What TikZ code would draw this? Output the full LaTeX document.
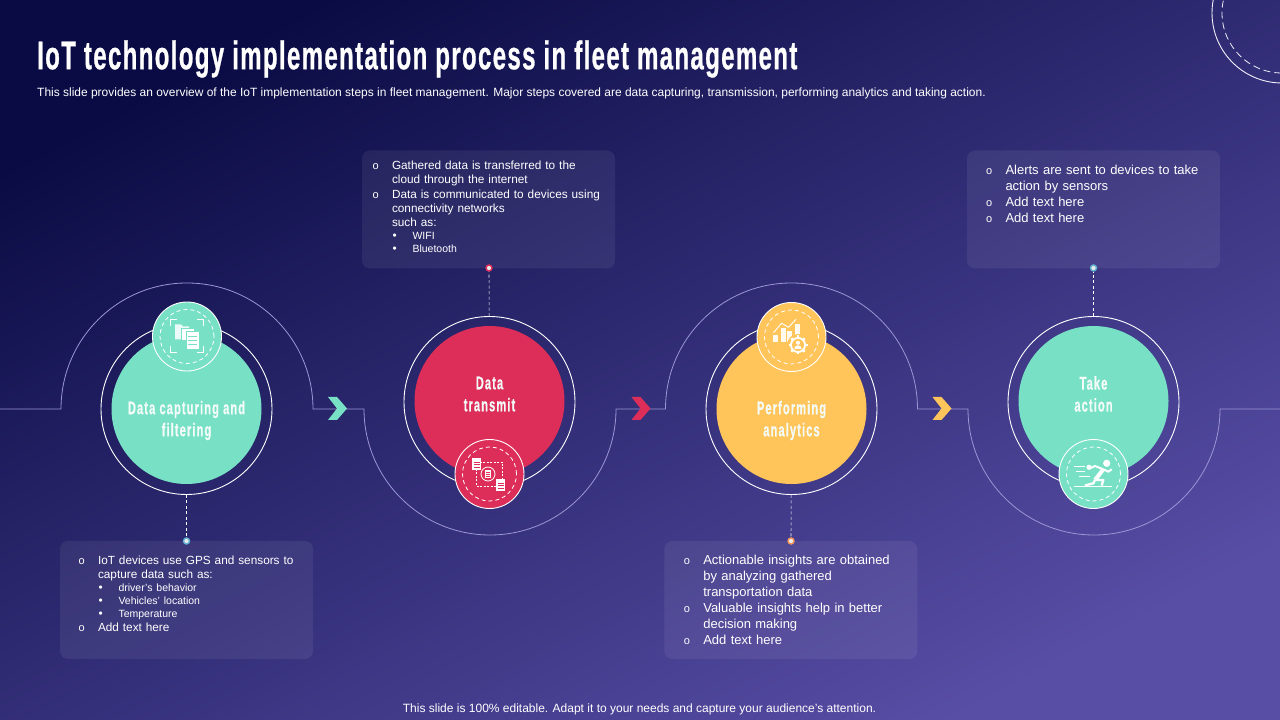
\documentclass[tikz,border=0pt]{standalone}
\usepackage{fontspec}
\setmainfont{Liberation Sans}
\newfontfamily\headfont[FakeStretch=0.6,LetterSpace=3.4,FakeBold=0.6]{Liberation Sans}
\newfontfamily\stepfont[FakeStretch=0.6,LetterSpace=6,FakeBold=0.5]{Liberation Sans}
\usetikzlibrary{positioning, arrows.meta, shapes.geometric}

\definecolor{tealc}{HTML}{78E0C5}
\definecolor{redc}{HTML}{DC2E58}
\definecolor{yellowc}{HTML}{FFC45A}
\definecolor{flowc}{HTML}{9C96D6}

% lista de cada recuadro
\newcommand{\ringitem}[1]{\noindent\makebox[19.5pt][l]{\fontsize{11}{11}\selectfont o}\parbox[t]{215pt}{\raggedright #1\strut}\par\prevdepth=\dp\strutbox}
\newcommand{\dotitem}[1]{\noindent\hspace*{20pt}\makebox[20pt][l]{\textbullet}{\fontsize{10.5}{13}\selectfont #1\par}}

\tikzset{
    foldericon/.pic={
        \draw[white, line width=1pt] (-16.5,10) -- (-16.5,16.5) -- (-10,16.5);
        \draw[white, line width=1pt] (10,16.5) -- (16.5,16.5) -- (16.5,10);
        \draw[white, line width=1pt] (16.5,-10) -- (16.5,-16.5) -- (10,-16.5);
        \draw[white, line width=1pt] (-10,-16.5) -- (-16.5,-16.5) -- (-16.5,-10);
        \fill[white, opacity=.85] (-12,12) -- (-6,12) -- (-4,10) -- (2,10) -- (2,-3) -- (-12,-3) -- cycle;
        \fill[white, draw=tealc, line width=.6pt] (-6,8) -- (7,8) -- (7,-4) -- (-6,-4) -- cycle;
        \fill[white, draw=tealc, line width=.6pt] (-1,5) rectangle (12,-13);
        \foreach \ly in {0,-4,-8} {\draw[tealc, line width=.7pt] (1,\ly) -- (10,\ly);}
    },
    cycleicon/.pic={
        \draw[white, line width=.7pt, dash pattern=on 2pt off 1.5pt] (-13.5,12) rectangle (12.5,-12);
        \draw[white, line width=.8pt, fill=redc] (-1.5,0) circle[radius=7];
        \fill[white] (-4.2,4.2) rectangle (1.2,-4.2);
        \foreach \ly in {2,0,-2} {\draw[redc, line width=.5pt] (-3.6,\ly) -- (.6,\ly);}
        \fill[white] (-17.5,16) rectangle (-8.5,4);
        \fill[white] (6.5,-5) rectangle (15.5,-17);
        \foreach \ly in {12,9.5,7} {\draw[redc, line width=.5pt] (-16,\ly) -- (-10,\ly);}
        \foreach \ly in {-9,-11.5,-14} {\draw[redc, line width=.5pt] (8,\ly) -- (14,\ly);}
    },
    charticon/.pic={
        \fill[white, opacity=.9] (-18.5,2) rectangle (-13.5,-5);
        \fill[white, opacity=.9] (-10.5,9) rectangle (-5.5,-5);
        \fill[white, opacity=.9] (-4.5,6) rectangle (.5,-5);
        \fill[white, opacity=.9] (3.5,13) rectangle (8,0);
        \draw[white, line width=.9pt] (-18,4.3) -- (-10,13.7) -- (-3,9.7) -- (4.5,17.7);
        \fill[yellowc] (6.5,-8) circle[radius=11];
        \foreach \ang in {0,45,...,315} {\draw[white, line width=2.4pt] (6.5,-8) -- ++(\ang:9.5);}
        \fill[white] (6.5,-8) circle[radius=8];
        \fill[yellowc] (6.5,-8) circle[radius=6];
        \fill[white] (6.5,-5.8) circle[radius=2];
        \fill[white] (2.8,-12) arc[start angle=180, end angle=0, radius=3.7] -- cycle;
    },
    runnericon/.pic={
        \draw[white, line width=.8pt] (-20,-12) -- (18,-12);
        \fill[white] (13.2,10.7) circle[radius=3.6];
        \draw[white, line width=4pt, line join=round] (9.8,4.7) -- (1.5,-6);
        \draw[white, line width=2pt, line join=round] (9.8,4.7) -- (14.8,2.3) -- (18.2,4.7);
        \draw[white, line width=2pt, line join=round] (9.8,4.7) -- (1.5,8) -- (-3.5,5.7);
        \draw[white, line width=2.4pt, line join=round] (1.5,-6) -- (9.8,-6) -- (8.2,-11.5);
        \draw[white, line width=2.4pt, line join=round] (1.5,-6) -- (-.2,-9.3) -- (-8.5,-11.5);
        \draw[white, line width=.8pt] (-20,7.3) -- (-9,7.3);
        \draw[white, line width=.8pt] (-17.5,2.3) -- (-8.5,2.3);
        \draw[white, line width=.8pt] (-15,-2.7) -- (-3.5,-2.7);
        \fill[white] (-4.5,6.7) circle[radius=2.6];
    },
    chevron/.pic={
        \fill (-9.5,11.5) -- (-.5,11.5) -- (9.5,0) -- (-.5,-11.5) -- (-9.5,-11.5) -- (-.5,0) -- cycle;
    }
}

\begin{document}
\begin{tikzpicture}[
        x=1pt, y=1pt,
        ringnode/.style={circle, draw=white, line width=.9pt, minimum size=171pt, inner sep=0pt},
        stepnode/.style={circle, minimum size=150pt, inner sep=0pt},
        steplabel/.style={inner sep=0pt, align=center, text=white!92!tealc, font=\stepfont\bfseries\fontsize{18.5}{22}\selectfont},
        iconnode/.style={circle, draw=white, line width=.9pt, minimum size=69pt, inner sep=0pt},
        icondash/.style={white, line width=.8pt, dash pattern=on 4pt off 3pt},
        infobox/.style={rounded corners=8pt, fill=white, fill opacity=.065, minimum width=253pt, minimum height=118pt, inner sep=0pt},
        infotext/.style={anchor=north west, text=white, text width=235pt, inner sep=0pt, align=left, font=\fontsize{11.8}{14.3}\selectfont},
        infotextwide/.style={infotext, font=\fontsize{13}{16}\selectfont},
        dotnode/.style={circle, draw, line width=1.4pt, fill=white!92!black, minimum size=6pt, inner sep=0pt},
        leader/.style={white, line width=.6pt, dash pattern=on 3pt off 2.5pt},
        flow/.style={flowc, line width=.8pt}
    ]
    \clip (0,0) rectangle (1280,720);
    \shade[top color={rgb,255:red,10;green,11;blue,68}, middle color={rgb,255:red,40;green,35;blue,108}, bottom color={rgb,255:red,88;green,78;blue,166}, shading angle=28] (-10,-10) rectangle (1290,730);

    % Adorno de la esquina
    \draw[white!85!flowc, line width=.9pt] (1282,707) circle[radius=70];
    \draw[white!85!flowc, line width=.8pt, dash pattern=on 7pt off 4pt] (1282,707) circle[radius=60];

    % Titulo y notas
    \node[anchor=west, inner sep=0pt, text=white, font=\headfont\bfseries\fontsize{40}{44}\selectfont] (title) at (37,661) {IoT technology implementation process in fleet management};
    \node[anchor=west, inner sep=0pt, text=white, font=\fontsize{11.97}{14}\selectfont] (subtitle) at (37,626.5) {This slide provides an overview of the IoT implementation steps in fleet management. Major steps covered are data capturing, transmission, performing analytics and taking action.};
    \node[inner sep=0pt, text=white, font=\fontsize{12}{14}\selectfont] (footer) at (639.5,10.5) {This slide is 100\% editable. Adapt it to your needs and capture your audience's attention.};

    % Linea de flujo
    \coordinate (flow0) at (0,311);
    \coordinate (flow1) at (61,311);
    \coordinate (flow2) at (364,311);
    \coordinate (flow3) at (665.5,311);
    \coordinate (flow4) at (968,311);
    \coordinate (flow5) at (1280,311);
    \draw[flow] (flow0) -- (flow1) arc[start angle=180, end angle=0, radius=126] -- (flow2) arc[start angle=180, end angle=360, radius=126] -- (flow3) arc[start angle=180, end angle=0, radius=126] -- (flow4) arc[start angle=180, end angle=360, radius=126] -- (flow5);

    % Recuadros
    \node[infobox] (info1) at (186.5,120) {};
    \node[infobox] (info2) at (488.5,510.5) {};
    \node[infobox] (info3) at (790.8,120) {};
    \node[infobox] (info4) at (1093.5,510.5) {};

    \node[infotext, xshift=18.5pt, yshift=-14.5pt] (text1) at (info1.north west) {%
        \ringitem{IoT devices use GPS and sensors to\\capture data such as:}
        \dotitem{driver's behavior}
        \dotitem{Vehicles' location}
        \dotitem{Temperature}
        \ringitem{Add text here}};
    \node[infotext, xshift=10.5pt, yshift=-10.5pt] (text2) at (info2.north west) {%
        \ringitem{Gathered data is transferred to the\\cloud through the internet}
        \ringitem{Data is communicated to devices using\\connectivity networks\\such as:}
        \dotitem{WIFI}
        \dotitem{Bluetooth}};
    \node[infotextwide, xshift=19.5pt, yshift=-14pt] (text3) at (info3.north west) {%
        \ringitem{Actionable insights are obtained\\by analyzing gathered\\transportation data}
        \ringitem{Valuable insights help in better\\decision making}
        \ringitem{Add text here}};
    \node[infotextwide, xshift=19pt, yshift=-15pt] (text4) at (info4.north west) {%
        \ringitem{Alerts are sent to devices to take\\action by sensors}
        \ringitem{Add text here}
        \ringitem{Add text here}};

    % Circulos
    \node[ringnode] (ring1) at (186.5,311) {};
    \node[ringnode] (ring2) at (489.5,318) {};
    \node[ringnode] (ring3) at (791.5,311) {};
    \node[ringnode] (ring4) at (1093.5,318) {};

    \node[stepnode, fill=tealc] (step1) at (ring1) {};
    \node[stepnode, fill=redc] (step2) at (489.5,319) {};
    \node[stepnode, fill=yellowc] (step3) at (ring3) {};
    \node[stepnode, fill=tealc] (step4) at (1093.5,319) {};

    \node[steplabel] (label1) at ([yshift=-11.5pt]step1.center) {Data capturing and\\filtering};
    \node[steplabel] (label2) at ([yshift=7pt]step2.center) {Data\\transmit};
    \node[steplabel] (label3) at ([yshift=-11.5pt]step3.center) {Performing\\analytics};
    \node[steplabel] (label4) at ([yshift=7pt]step4.center) {Take\\action};

    \node[iconnode, fill=tealc] (icon1) at (187,383.5) {};
    \node[iconnode, fill=redc] (icon2) at (489.5,246) {};
    \node[iconnode, fill=yellowc] (icon3) at (791.5,383) {};
    \node[iconnode, fill=tealc] (icon4) at (1093.5,246) {};
    \foreach \n in {1,2,3,4} {\draw[icondash] (icon\n.center) circle[radius=27];}

    \pic at (icon1.center) {foldericon};
    \pic at (icon2.center) {cycleicon};
    \pic at (icon3.center) {charticon};
    \pic at (icon4.center) {runnericon};

    % Puntos y guias
    \node[dotnode, draw=tealc!80!blue] (dot1) at (186.5,179) {};
    \node[dotnode, draw=redc] (dot2) at (489,452) {};
    \node[dotnode, draw=yellowc!70!redc] (dot3) at (791,179) {};
    \node[dotnode, draw=tealc!80!blue] (dot4) at (1093.5,452) {};
    \draw[leader] (ring1) -- (dot1);
    \draw[leader] (ring2) -- (dot2);
    \draw[leader] (ring3) -- (dot3);
    \draw[leader] (ring4) -- (dot4);

    % Flechas
    \pic[tealc] at (337.5,311.5) {chevron};
    \pic[redc] at (641,311.5) {chevron};
    \pic[yellowc] at (942,311.5) {chevron};
\end{tikzpicture}
\end{document}
